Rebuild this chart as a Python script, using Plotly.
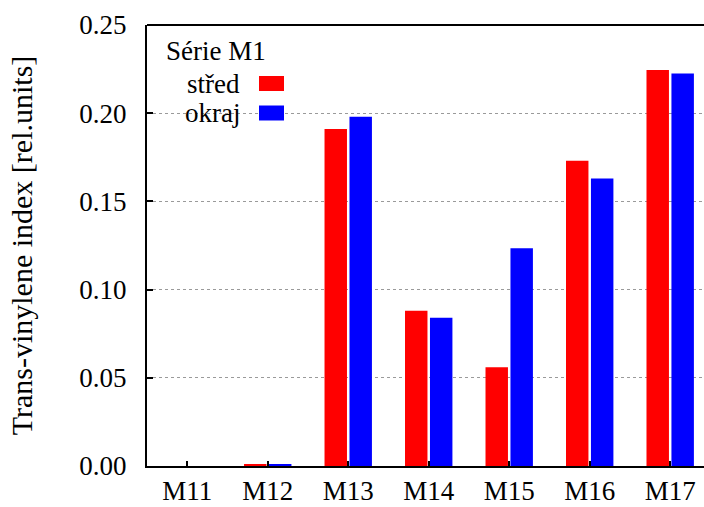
import plotly.graph_objects as go

# Trans-vinylene index for samples of series M1, centre vs. edge
samples = ["M11", "M12", "M13", "M14", "M15", "M16", "M17"]
stred = [0.0, 0.001, 0.191, 0.088, 0.056, 0.173, 0.2245]
okraj = [0.0, 0.001, 0.198, 0.084, 0.1235, 0.163, 0.2225]
y_ticks = [0.00, 0.05, 0.10, 0.15, 0.20, 0.25]

FONT = "'Liberation Serif', 'Times New Roman', 'DejaVu Serif', serif"
W, H = 704, 507
L, R, T, B = 147, 0, 25, 41
PW, PH = W - L - R, H - T - B


def px_x(px):
    return (px - L) / PW


def px_y(py):
    return (H - B - py) / PH


fig = go.Figure()
fig.add_trace(go.Bar(x=samples, y=stred, name="střed", marker_color="#ff0000",
                     marker_line_width=0, showlegend=False))
fig.add_trace(go.Bar(x=samples, y=okraj, name="okraj", marker_color="#0000ff",
                     marker_line_width=0, showlegend=False))

fig.update_layout(
    width=W, height=H,
    margin=dict(l=L, r=R, t=T, b=B, autoexpand=False),
    paper_bgcolor="white", plot_bgcolor="white",
    barmode="group", bargap=0.38, bargroupgap=0.1,
    font=dict(family=FONT, size=27, color="black"),
)

fig.update_xaxes(
    type="category", range=[-0.5, 6.42],
    showline=True, linecolor="black", linewidth=2,
    ticks="inside", ticklen=5, tickwidth=2, tickcolor="black",
    showgrid=False, automargin=False,
    tickfont=dict(family=FONT, size=27),
)
fig.update_yaxes(
    range=[0, 0.25], tickvals=y_ticks, tickformat=".2f",
    showline=True, linecolor="black", linewidth=2,
    ticks="inside", ticklen=6, tickwidth=2, tickcolor="black",
    showgrid=True, gridcolor="#9a9a9a", griddash="dot", gridwidth=1,
    zeroline=False, automargin=False, ticklabelstandoff=13,
    tickfont=dict(family=FONT, size=27),
    title=dict(text="Trans-vinylene index [rel.units]", standoff=38,
               font=dict(family=FONT, size=30)),
)

# top border of the plot frame
fig.add_shape(type="line", xref="paper", yref="paper", x0=0, x1=1, y0=1, y1=1,
              line=dict(color="black", width=2))

# key: title, right-aligned labels with colour swatches after them
fig.add_annotation(text="Série M1", xref="paper", yref="paper",
                   x=px_x(164), y=px_y(51), xanchor="left", yanchor="middle",
                   showarrow=False, font=dict(family=FONT, size=27))
for label, color, ty, y0, y1 in [("střed", "#ff0000", 84, 76, 91),
                                 ("okraj", "#0000ff", 113, 105.5, 120.5)]:
    fig.add_annotation(text=label, xref="paper", yref="paper",
                       x=px_x(242), y=px_y(ty), xanchor="right", yanchor="middle",
                       showarrow=False, font=dict(family=FONT, size=27))
    fig.add_shape(type="rect", xref="paper", yref="paper",
                  x0=px_x(259), x1=px_x(284), y0=px_y(y1), y1=px_y(y0),
                  fillcolor=color, line_width=0)

fig.write_html("out.html")
